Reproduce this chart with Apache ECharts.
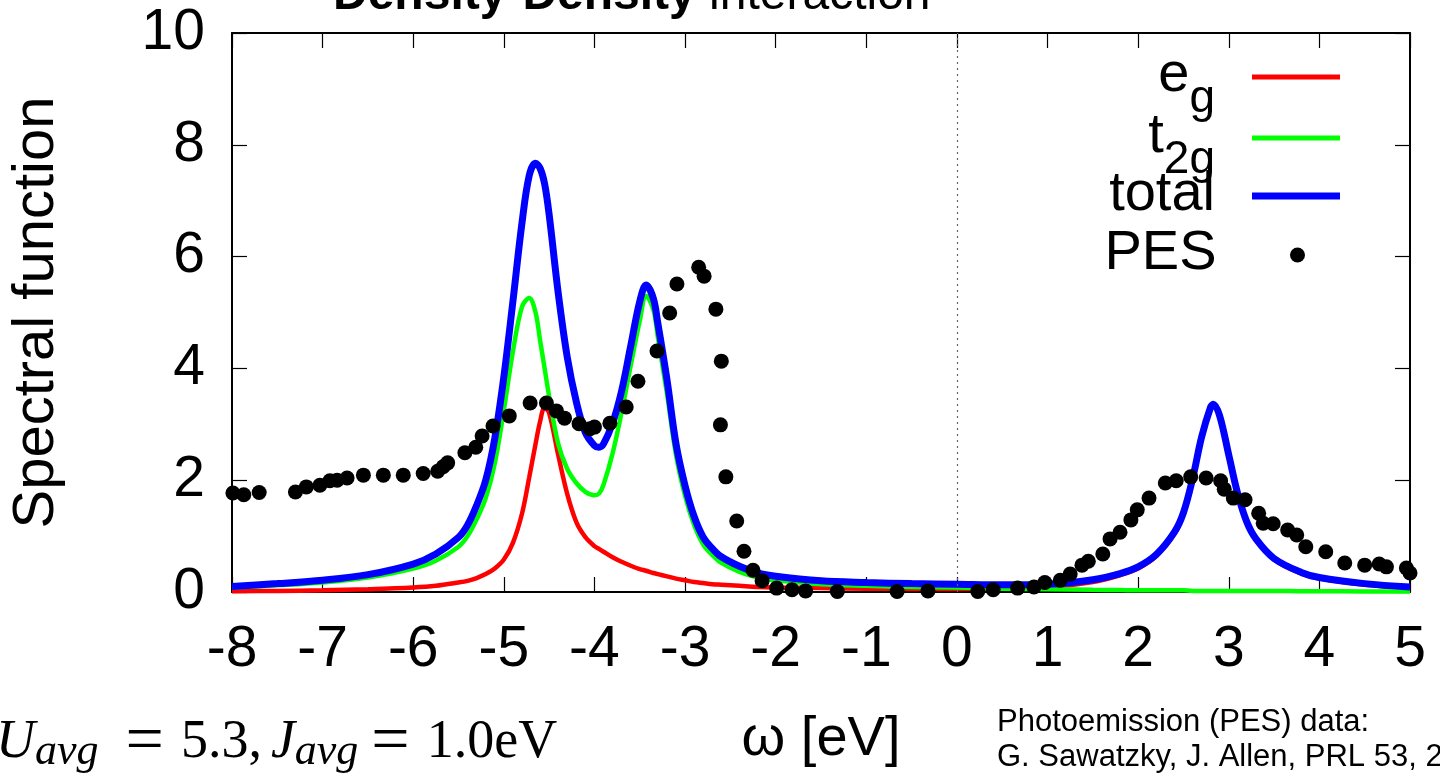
<!DOCTYPE html>
<html>
<head>
<meta charset="utf-8">
<script src="https://cdn.jsdelivr.net/npm/echarts@6/dist/echarts.min.js"></script>
<style>
  html, body { margin: 0; padding: 0; background: #ffffff; }
  #chart { width: 1440px; height: 775px; }
</style>
</head>
<body>
<div id="chart"></div>
<script>
// Energy grid (eV) shared by the three model curves
const omega = [-8, -7.5, -7, -6.5, -6, -5.75, -5.5, -5.4, -5.3, -5.2,
  -5.1, -5.0, -4.9, -4.8, -4.72, -4.65, -4.6, -4.55, -4.5, -4.4,
  -4.3, -4.2, -4.1, -4.0, -3.95, -3.9, -3.8, -3.7, -3.6, -3.5,
  -3.43, -3.35, -3.3, -3.2, -3.1, -3.0, -2.9, -2.8, -2.7, -2.6,
  -2.4, -2.2, -2.0, -1.5, -1.0, -0.5, 0, 0.5, 1.0, 1.5,
  1.8, 2.0, 2.2, 2.4, 2.5, 2.6, 2.7, 2.8, 2.83, 2.9,
  3.0, 3.1, 3.2, 3.3, 3.5, 3.8, 4.0, 4.5, 5.0];

// e_g spectral weight
const egValues = [0.015, 0.02, 0.03, 0.05, 0.08, 0.11, 0.17, 0.2, 0.25, 0.32,
  0.42, 0.58, 0.88, 1.4, 2.05, 2.65, 3.05, 3.3, 3.2, 2.45,
  1.75, 1.25, 0.98, 0.82, 0.77, 0.72, 0.62, 0.54, 0.47, 0.41,
  0.38, 0.34, 0.32, 0.28, 0.24, 0.21, 0.18, 0.16, 0.14, 0.13,
  0.11, 0.09, 0.08, 0.07, 0.06, 0.055, 0.055, 0.065, 0.09, 0.18,
  0.30, 0.42, 0.64, 1.04, 1.4, 2.0, 2.75, 3.29, 3.34, 3.13,
  2.43, 1.73, 1.23, 0.93, 0.58, 0.33, 0.24, 0.13, 0.08];

// t_2g spectral weight
const t2gValues = [0.08, 0.12, 0.17, 0.26, 0.42, 0.56, 0.81, 1.0, 1.3, 1.68,
  2.3, 3.25, 4.3, 5.1, 5.26, 5.0, 4.5, 4.0, 3.5, 2.65,
  2.2, 1.95, 1.79, 1.73, 1.76, 1.92, 2.48, 3.22, 4.05, 4.85,
  5.3, 5.05, 4.55, 3.55, 2.45, 1.72, 1.2, 0.85, 0.66, 0.52,
  0.36, 0.26, 0.21, 0.14, 0.11, 0.09, 0.08, 0.06, 0.05, 0.04,
  0.035, 0.03, 0.03, 0.03, 0.03, 0.02, 0.02, 0.02, 0.02, 0.02,
  0.02, 0.02, 0.02, 0.02, 0.02, 0.015, 0.015, 0.01, 0.01];

// total spectral function
const totalValues = [0.10, 0.15, 0.21, 0.31, 0.50, 0.68, 0.98, 1.2, 1.55, 2.0,
  2.75, 3.85, 5.2, 6.6, 7.45, 7.67, 7.58, 7.3, 6.75, 5.35,
  4.2, 3.4, 2.85, 2.62, 2.59, 2.65, 3.02, 3.6, 4.4, 5.2,
  5.49, 5.25, 4.8, 3.8, 2.65, 1.9, 1.35, 0.98, 0.78, 0.63,
  0.46, 0.34, 0.28, 0.2, 0.17, 0.15, 0.14, 0.13, 0.14, 0.22,
  0.33, 0.45, 0.67, 1.07, 1.42, 2.02, 2.77, 3.31, 3.36, 3.15,
  2.45, 1.75, 1.25, 0.95, 0.6, 0.35, 0.26, 0.15, 0.09];

// Photoemission data points
const pesOmega = [-7.99, -7.87, -7.70, -7.30, -7.18, -7.03, -6.92, -6.84, -6.73, -6.55,
  -6.33, -6.11, -5.89, -5.73, -5.67, -5.62, -5.43, -5.31, -5.24, -5.12,
  -4.94, -4.71, -4.53, -4.42, -4.33, -4.17, -4.05, -4.00, -3.83, -3.65,
  -3.52, -3.31, -3.17, -3.09, -2.85, -2.79, -2.66, -2.60, -2.61, -2.55,
  -2.43, -2.35, -2.25, -2.15, -1.99, -1.82, -1.67, -1.32, -0.66, -0.32,
  0.23, 0.40, 0.67, 0.85, 0.97, 1.14, 1.25, 1.38, 1.45, 1.61,
  1.69, 1.80, 1.92, 1.99, 2.12, 2.30, 2.42, 2.58, 2.75, 2.91,
  2.95, 3.05, 3.18, 3.33, 3.38, 3.49, 3.65, 3.75, 3.85, 4.07,
  4.28, 4.50, 4.66, 4.74, 4.96, 5.00];
const pesValues = [1.77, 1.74, 1.78, 1.79, 1.88, 1.91, 1.99, 2.00, 2.04, 2.09,
  2.09, 2.09, 2.12, 2.16, 2.24, 2.31, 2.49, 2.59, 2.79, 2.97,
  3.15, 3.38, 3.38, 3.24, 3.11, 3.01, 2.92, 2.95, 3.02, 3.31,
  3.77, 4.31, 4.99, 5.51, 5.81, 5.65, 5.06, 4.13, 2.99, 2.06,
  1.27, 0.73, 0.39, 0.20, 0.07, 0.04, 0.02, 0.01, 0.01, 0.02,
  0.01, 0.04, 0.07, 0.09, 0.17, 0.21, 0.32, 0.48, 0.55, 0.68,
  0.95, 1.07, 1.29, 1.47, 1.68, 1.95, 1.99, 2.06, 2.04, 1.99,
  1.84, 1.68, 1.65, 1.41, 1.23, 1.22, 1.11, 1.02, 0.81, 0.72,
  0.52, 0.48, 0.50, 0.45, 0.43, 0.34];

// Axis ranges
const xRange = [-8, 5, 1];
const yRange = [0, 10, 2];

const FONT = '"Liberation Sans", Arial, Helvetica, sans-serif';
const SERIF = '"Liberation Serif", "Times New Roman", serif';

const zip = (xs, ys) => xs.map((x, i) => [x, ys[i]]);

const chart = echarts.init(document.getElementById('chart'), null, { renderer: 'canvas' });

const legendRich = {
  m: { fontSize: 56, lineHeight: 60, fontFamily: FONT, color: '#000', verticalAlign: 'middle' },
  s: { fontSize: 46, lineHeight: 6, height: 14, fontFamily: FONT, color: '#000', verticalAlign: 'bottom' }
};
const legendLabels = {
  eg: '{m|e}{s|g}',
  t2g: '{m|t}{s|2g}',
  total: '{m|total}',
  PES: '{m|PES}'
};
function legendEntry(name, top, right, icon, h) {
  return {
    data: [{ name: name, icon: icon }],
    orient: 'vertical',
    right: right,
    top: top,
    padding: 0,
    align: 'right',
    itemWidth: 88,
    itemHeight: h,
    selectedMode: false,
    itemStyle: { borderWidth: 0 },
    formatter: n => legendLabels[n],
    textStyle: { padding: [0, 32, 2, 0], rich: legendRich }
  };
}

const frameAxis = {
  axisLine: { show: true, onZero: false, lineStyle: { color: '#000', width: 2 } },
  axisTick: { show: true, inside: true, length: 15, lineStyle: { color: '#000', width: 1.2 } },
  splitLine: { show: false }
};

const option = {
  animation: false,
  backgroundColor: '#ffffff',
  grid: { left: 232, right: 30, top: 33, bottom: 183, containLabel: false },
  xAxis: [
    Object.assign({
      type: 'value', min: xRange[0], max: xRange[1], interval: xRange[2], position: 'bottom',
      axisLabel: { show: true, margin: 30, color: '#000', fontSize: 57, fontFamily: FONT },
      name: 'ω [eV]', nameLocation: 'middle', nameGap: 120,
      nameTextStyle: { color: '#000', fontSize: 56, fontFamily: FONT }
    }, frameAxis),
    Object.assign({
      type: 'value', min: xRange[0], max: xRange[1], interval: xRange[2], position: 'top',
      axisLabel: { show: false }
    }, frameAxis)
  ],
  yAxis: [
    Object.assign({
      type: 'value', min: yRange[0], max: yRange[1], interval: yRange[2], position: 'left',
      axisLabel: { show: true, margin: 27, color: '#000', fontSize: 57, fontFamily: FONT },
      name: 'Spectral function', nameLocation: 'middle', nameGap: 166, nameRotate: 90,
      nameTextStyle: { color: '#000', fontSize: 58, fontFamily: FONT }
    }, frameAxis),
    Object.assign({
      type: 'value', min: yRange[0], max: yRange[1], interval: yRange[2], position: 'right',
      axisLabel: { show: false }
    }, frameAxis)
  ],
  legend: [
    legendEntry('eg', 48, 100, 'rect', 5),
    legendEntry('t2g', 109, 100, 'rect', 5),
    legendEntry('total', 167, 100, 'rect', 7),
    legendEntry('PES', 226, 135, 'circle', 15)
  ],
  series: [
    {
      name: 'eg', type: 'line', data: zip(omega, egValues),
      showSymbol: false, symbol: 'none', smooth: 0.35, clip: true,
      color: '#ff0000', itemStyle: { color: '#ff0000' },
      lineStyle: { color: '#ff0000', width: 4.5 },
      markLine: {
        silent: true, symbol: ['none', 'none'], label: { show: false },
        lineStyle: { color: '#666', type: [2, 4], width: 1.2 },
        data: [{ xAxis: 0 }]
      },
      z: 2
    },
    {
      name: 't2g', type: 'line', data: zip(omega, t2gValues),
      showSymbol: false, symbol: 'none', smooth: 0.35, clip: true,
      color: '#00ff00', itemStyle: { color: '#00ff00' },
      lineStyle: { color: '#00ff00', width: 4.5 },
      z: 3
    },
    {
      name: 'total', type: 'line', data: zip(omega, totalValues),
      showSymbol: false, symbol: 'none', smooth: 0.35, clip: true,
      color: '#0000ff', itemStyle: { color: '#0000ff' },
      lineStyle: { color: '#0000ff', width: 7 },
      z: 4
    },
    {
      name: 'PES', type: 'scatter', data: zip(pesOmega, pesValues),
      symbol: 'circle', symbolSize: 15, clip: false,
      color: '#000000', itemStyle: { color: '#000000', opacity: 1 },
      z: 5
    }
  ],
  graphic: [
    {
      type: 'text', left: 333, top: -28, silent: true,
      style: {
        text: '{b|Density-Density }{n|interaction}',
        rich: {
          b: { fontSize: 48, fontWeight: 'bold', fontFamily: FONT, fill: '#000' },
          n: { fontSize: 48, fontFamily: FONT, fill: '#000' }
        }
      }
    },
    {
      type: 'text', left: -4, top: 709, silent: true,
      style: {
        text: '{i|U}{s|avg}{e1|=}{q|5.3,}{j|J}{s|avg}{e2|=}{q|1.0eV}',
        rich: {
          i: { fontSize: 54, fontStyle: 'italic', fontFamily: SERIF, fill: '#000', lineHeight: 56, verticalAlign: 'middle' },
          j: { fontSize: 54, fontStyle: 'italic', fontFamily: SERIF, fill: '#000', lineHeight: 56, verticalAlign: 'middle', padding: [0, 0, 0, 9] },
          s: { fontSize: 44, fontStyle: 'italic', fontFamily: SERIF, fill: '#000', lineHeight: 24, height: 38, verticalAlign: 'bottom' },
          e1: { fontSize: 68, fontFamily: SERIF, fill: '#000', lineHeight: 56, verticalAlign: 'middle', padding: [0, 17, 0, 27] },
          e2: { fontSize: 68, fontFamily: SERIF, fill: '#000', lineHeight: 56, verticalAlign: 'middle', padding: [0, 17, 0, 13] },
          q: { fontSize: 54, fontFamily: SERIF, fill: '#000', lineHeight: 56, verticalAlign: 'middle' }
        }
      }
    },
    {
      type: 'text', left: 997, top: 705, silent: true,
      style: {
        text: 'Photoemission (PES) data:\nG. Sawatzky, J. Allen, PRL 53, 2439 (1984)',
        fontSize: 31, lineHeight: 35, fontFamily: FONT, fill: '#000'
      }
    }
  ]
};

chart.setOption(option);
</script>
</body>
</html>
